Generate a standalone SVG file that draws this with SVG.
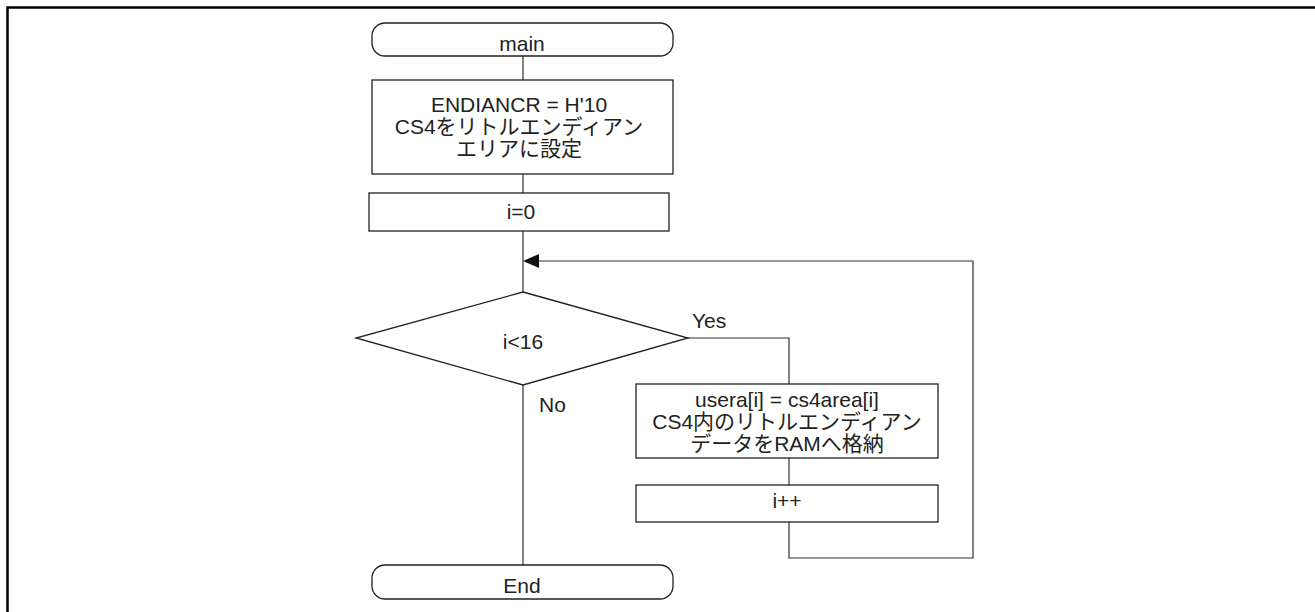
<svg xmlns="http://www.w3.org/2000/svg" width="1315" height="612" viewBox="0 0 1315 612">
<style>
.s{fill:#fff;stroke:#222;stroke-width:1.3}
.c{fill:none;stroke:#333;stroke-width:1.2}
.t{font-family:"Liberation Sans","Noto Sans CJK JP",sans-serif;font-size:21px;fill:#222;text-anchor:middle}
.l{font-family:"Liberation Sans","Noto Sans CJK JP",sans-serif;font-size:21px;fill:#222}
</style>
<rect width="1315" height="612" fill="#fff"/>
<path d="M7.5,612 V7.5 H1315" fill="none" stroke="#000" stroke-width="2.5"/>
<g id="connectors">
<path class="c" d="M523,56 V80 M523,174 V193 M523,231 V292 M523,385 V565"/>
<path class="c" d="M688,338 H789 V384"/>
<path class="c" d="M789,458 V485"/>
<path class="c" d="M789,522 V558 H973 V261 H538"/>
<polygon points="523,261 539,254 539,268" fill="#111"/>
<text class="l" x="692" y="328">Yes</text>
<text class="l" x="539" y="412">No</text>
</g>
<g id="main">
<rect class="s" x="372" y="23" width="301" height="33" rx="13" ry="13"/>
<text class="t" x="522" y="51">main</text>
</g>
<g id="endian">
<rect class="s" x="372" y="80" width="301" height="94"/>
<text class="t" x="519" y="112">ENDIANCR = H'10</text>
<text class="t" x="519" y="134">CS4をリトルエンディアン</text>
<text class="t" x="519" y="156">エリアに設定</text>
</g>
<g id="init">
<rect class="s" x="369" y="193" width="300" height="38"/>
<text class="t" x="521" y="219">i=0</text>
</g>
<g id="cond">
<polygon class="s" points="523,292 688,338 523,385 356,338"/>
<text class="t" x="523" y="349">i&lt;16</text>
</g>
<g id="copy">
<rect class="s" x="636" y="384" width="302" height="74"/>
<text class="t" x="787" y="407">usera[i] = cs4area[i]</text>
<text class="t" x="787" y="429">CS4内のリトルエンディアン</text>
<text class="t" x="787" y="451">データをRAMへ格納</text>
</g>
<g id="inc">
<rect class="s" x="636" y="485" width="302" height="37"/>
<text class="t" x="787" y="508">i++</text>
</g>
<g id="end">
<rect class="s" x="372" y="565" width="301" height="34" rx="13" ry="13"/>
<text class="t" x="522" y="593">End</text>
</g>
</svg>
